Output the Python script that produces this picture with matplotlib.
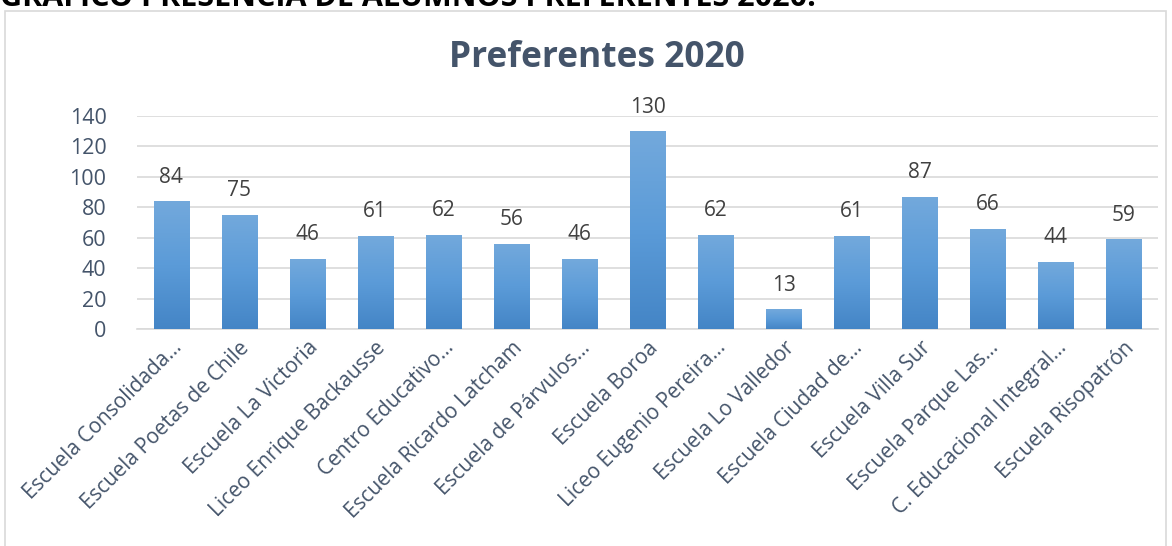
import matplotlib.pyplot as plt
import numpy as np
import matplotlib.transforms as mtransforms
from matplotlib.colors import LinearSegmentedColormap
from matplotlib.patches import Rectangle

escuelas = [
    "Escuela Consolidada...", "Escuela Poetas de Chile", "Escuela La Victoria",
    "Liceo Enrique Backausse", "Centro Educativo...", "Escuela Ricardo Latcham",
    "Escuela de Párvulos...", "Escuela Boroa", "Liceo Eugenio Pereira...",
    "Escuela Lo Valledor", "Escuela Ciudad de...", "Escuela Villa Sur",
    "Escuela Parque Las...", "C. Educacional Integral...", "Escuela Risopatrón",
]
preferentes = [84, 75, 46, 61, 62, 56, 46, 130, 62, 13, 61, 87, 66, 44, 59]
y_ticks = [0, 20, 40, 60, 80, 100, 120, 140]

TXT = "#44546A"
W, H = 1172, 546

fig = plt.figure(figsize=(W / 100, H / 100), dpi=100)
ax = fig.add_axes([137 / W, 1 - 329 / H, (1158 - 137) / W, (329 - 116) / H])

# page heading, mostly cut off at the top like in the source document
fig.text(0.0, 1 - 6 / H, "GRÁFICO PRESENCIA DE ALUMNOS PREFERENTES 2020.",
         fontsize=22, fontweight="bold", color="black", family="Open Sans",
         va="baseline", ha="left")
# chart frame
fig.patches.append(Rectangle((5 / W, -0.05), (1166 - 5) / W, 1 - 11 / H + 0.05,
                             transform=fig.transFigure, fill=False,
                             ec="#D9D9D9", lw=1.2))

x = np.arange(len(escuelas))
bars = ax.bar(x, preferentes, width=0.515, color="#5B9BD5", zorder=2)

cmap = LinearSegmentedColormap.from_list("g", ["#4485C6", "#5B9BD8", "#73A9DC"])
grad = np.linspace(0, 1, 256).reshape(-1, 1)
for b in bars:
    bx, bw, bh = b.get_x(), b.get_width(), b.get_height()
    im = ax.imshow(grad, cmap=cmap, origin="lower", aspect="auto",
                   extent=[bx, bx + bw, 0, bh], zorder=3)
    im.set_clip_path(b)
    ax.text(bx + bw / 2, bh + 9, str(int(bh)), ha="center", va="bottom",
            fontsize=15, color="#404040", family="Open Sans")

ax.set_xlim(-0.5, len(escuelas) - 0.5)
ax.set_ylim(0, 140)
ax.set_yticks(y_ticks)
ax.set_xticks(x)
ax.set_xticklabels(escuelas, rotation=45, ha="right", rotation_mode="anchor",
                   fontsize=15, color=TXT, family="Open Sans")
shift = mtransforms.ScaledTranslation(6 / 100, -2 / 100, fig.dpi_scale_trans)
for t in ax.get_xticklabels():
    t.set_transform(t.get_transform() + shift)
for t in ax.get_yticklabels():
    t.set_fontsize(15.5)
    t.set_color(TXT)
    t.set_family("Open Sans")
ax.tick_params(axis="y", length=0, pad=22)
ax.tick_params(axis="x", length=0, pad=6)
ax.grid(axis="y", color="#D9D9D9", lw=1.2, zorder=0)
for s in ["top", "right", "left"]:
    ax.spines[s].set_visible(False)
ax.spines["bottom"].set_color("#D9D9D9")
ax.spines["bottom"].set_linewidth(1.2)

fig.text(597 / W, 1 - 58 / H, "Preferentes 2020", ha="center", va="center",
         fontsize=25.5, fontweight="bold", color=TXT, family="Open Sans")

fig.savefig("out.png", dpi=100)
